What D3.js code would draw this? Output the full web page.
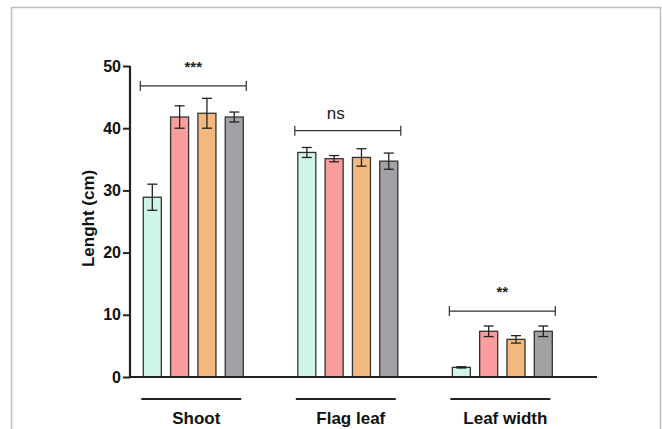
<!DOCTYPE html>
<html lang="en">
<head>
<meta charset="UTF-8">
<title>Lenght by organ</title>
<script src="https://cdnjs.cloudflare.com/ajax/libs/d3/7.8.5/d3.min.js"></script>
<style>
  body { margin: 0; background: #fff; }
  text { font-family: "Liberation Sans", Arial, sans-serif; }
</style>
</head>
<body>
<div id="chart"></div>
<script>
// data
var categories = ["Shoot", "Flag leaf", "Leaf width"];
var series = ["T1", "T2", "T3", "T4"];
var colors = ["#cff5e6", "#f99d9d", "#f1b97d", "#a2a1a5"];
var means = [
  [28.9, 41.8, 42.4, 41.8],
  [36.1, 35.1, 35.3, 34.7],
  [1.55, 7.35, 6.05, 7.35]
];
var errs = [
  [2.1, 1.8, 2.4, 0.8],
  [0.8, 0.5, 1.4, 1.3],
  [0.1, 0.85, 0.6, 0.85]
];
var sigLabels = ["***", "ns", "**"];
var sigLevels = [46.8, 39.6, 10.6];
var yTicks = [0, 10, 20, 30, 40, 50];

var W = 662, H = 429;
var svg = d3.select("#chart").append("svg")
  .attr("width", W).attr("height", H);

// outer frame
svg.append("path")
  .attr("d", "M11.5," + H + "V7.5H660.5V" + H)
  .attr("fill", "none").attr("stroke", "#bdbdbd").attr("stroke-width", 1.5);

var y = d3.scaleLinear().domain([0, 50]).range([377, 66]);

var x0 = d3.scaleBand().domain(categories)
  .range([130, 565.6]).paddingInner(0.353).paddingOuter(0.086);
var x1 = d3.scaleBand().domain(series)
  .range([0, x0.bandwidth()]).paddingInner(0.34).paddingOuter(0);

// y axis
var yAxis = d3.axisLeft(y).tickValues(yTicks).tickSize(7).tickPadding(2);
var gy = svg.append("g").attr("transform", "translate(130,0)").call(yAxis);
gy.select(".domain").attr("stroke", "#222").attr("stroke-width", 2.2)
  .attr("d", "M0," + y(0) + "V" + y(50));
gy.selectAll(".tick line").attr("stroke", "#222").attr("stroke-width", 2);
gy.selectAll(".tick text").attr("fill", "#111")
  .style("font-size", "16px").style("font-weight", "bold");

svg.append("text")
  .attr("transform", "translate(94," + y(25.5) + ") rotate(-90)")
  .attr("text-anchor", "middle")
  .style("font-size", "17px").style("font-weight", "bold").attr("fill", "#111")
  .text("Lenght (cm)");

// bars
var groups = svg.selectAll(".grp").data(categories).enter().append("g")
  .attr("class", "grp")
  .attr("transform", function(d) { return "translate(" + x0(d) + ",0)"; });

groups.each(function(cat, ci) {
  var g = d3.select(this);
  var rows = series.map(function(s, si) {
    return { s: s, si: si, m: means[ci][si], e: errs[ci][si] };
  });
  g.selectAll("rect").data(rows).enter().append("rect")
    .attr("x", function(d) { return x1(d.s); })
    .attr("y", function(d) { return y(d.m); })
    .attr("width", x1.bandwidth())
    .attr("height", function(d) { return y(0) - y(d.m); })
    .attr("fill", function(d) { return colors[d.si]; })
    .attr("stroke", "#333").attr("stroke-width", 1.3);

  var eb = g.selectAll(".err").data(rows).enter().append("g").attr("class", "err")
    .attr("stroke", "#222").attr("stroke-width", 1.3);
  var cap = 5;
  eb.append("line")
    .attr("x1", function(d) { return x1(d.s) + x1.bandwidth() / 2; })
    .attr("x2", function(d) { return x1(d.s) + x1.bandwidth() / 2; })
    .attr("y1", function(d) { return y(d.m + d.e); })
    .attr("y2", function(d) { return y(d.m - d.e); });
  eb.append("line")
    .attr("x1", function(d) { return x1(d.s) + x1.bandwidth() / 2 - cap; })
    .attr("x2", function(d) { return x1(d.s) + x1.bandwidth() / 2 + cap; })
    .attr("y1", function(d) { return y(d.m + d.e); })
    .attr("y2", function(d) { return y(d.m + d.e); });
  eb.append("line")
    .attr("x1", function(d) { return x1(d.s) + x1.bandwidth() / 2 - cap; })
    .attr("x2", function(d) { return x1(d.s) + x1.bandwidth() / 2 + cap; })
    .attr("y1", function(d) { return y(d.m - d.e); })
    .attr("y2", function(d) { return y(d.m - d.e); });

  // significance bracket
  var by = y(sigLevels[ci]);
  var bl = -3, br = x0.bandwidth() + 3;
  g.append("path")
    .attr("d", "M" + bl + "," + (by - 5) + "V" + (by + 5) + "M" + bl + "," + by +
      "H" + br + "M" + br + "," + (by - 5) + "V" + (by + 5))
    .attr("fill", "none").attr("stroke", "#333").attr("stroke-width", 1.2);
  var isNs = sigLabels[ci] === "ns";
  g.append("text")
    .attr("x", x0.bandwidth() / 2 + (isNs ? -12 : 0))
    .attr("y", by - (isNs ? 12 : 14))
    .attr("text-anchor", "middle")
    .style("font-size", isNs ? "17px" : "15px")
    .style("font-weight", isNs ? "normal" : "bold")
    .attr("fill", "#222")
    .text(sigLabels[ci]);

  // group underline + label
  g.append("line")
    .attr("x1", -2).attr("x2", x0.bandwidth() - 2)
    .attr("y1", 399).attr("y2", 399)
    .attr("stroke", "#222").attr("stroke-width", 2);
  g.append("text")
    .attr("x", x0.bandwidth() / 2 + 3).attr("y", 424)
    .attr("text-anchor", "middle")
    .style("font-size", "17px").style("font-weight", "bold").attr("fill", "#111")
    .text(cat);
});

// x axis baseline
svg.append("line")
  .attr("x1", 129).attr("x2", 597)
  .attr("y1", y(0)).attr("y2", y(0))
  .attr("stroke", "#222").attr("stroke-width", 2.2);
</script>
</body>
</html>
